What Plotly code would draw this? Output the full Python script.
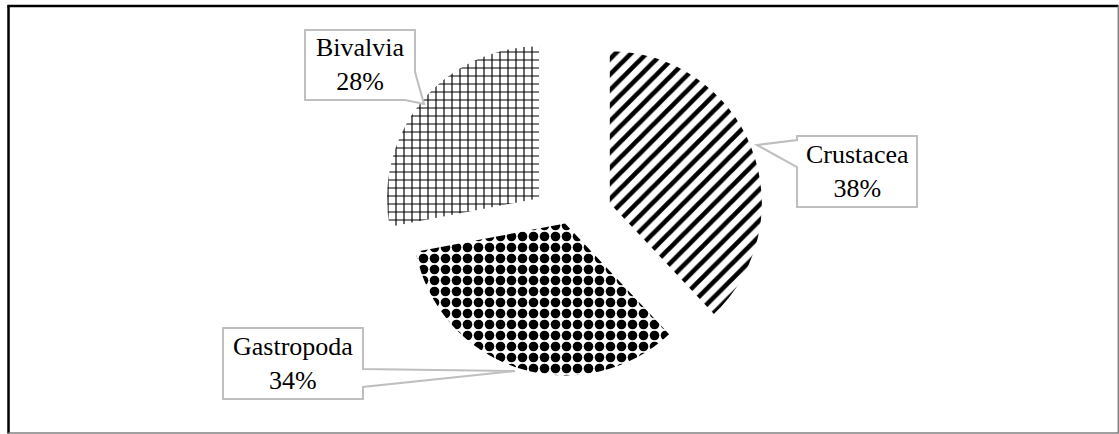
import plotly.graph_objects as go

# ---- data ----
categories = ["Crustacea", "Gastropoda", "Bivalvia"]
values = [38, 34, 28]
percent_labels = ["38%", "34%", "28%"]

# ---- figure geometry helpers (pixel -> paper) ----
W, H = 1119, 434


def px(x):
    return x / W


def py(y):
    return 1 - y / H


pulls = [0.31, 0.02, 0.23]
pattern_shapes = ["/", ".", "+"]
pattern_sizes = [11, 11, 8]
pattern_solidity = [0.42, 0.6, 0.27]

r = 152
cx, cy = 566, 220.5
half = r * (1 + max(pulls))

fig = go.Figure(
    go.Pie(
        labels=categories,
        values=values,
        sort=False,
        direction="clockwise",
        rotation=0,
        pull=pulls,
        textinfo="none",
        hoverinfo="none",
        showlegend=False,
        marker=dict(
            colors=["white"] * 3,
            line=dict(width=0),
            pattern=dict(
                shape=pattern_shapes,
                size=pattern_sizes,
                solidity=pattern_solidity,
                fgcolor="black",
                bgcolor="white",
                fillmode="replace",
            ),
        ),
        domain=dict(x=[px(cx - 250), px(cx + 250)], y=[py(cy + half), py(cy - half)]),
    )
)


def path_from(points):
    s = "M " + " L ".join(f"{px(x):.5f},{py(y):.5f}" for x, y in points) + " Z"
    return s


callouts = {
    "Crustacea": [(797, 136), (917, 136), (917, 207), (797, 207), (797, 167), (757, 145), (797, 140)],
    "Bivalvia": [(305, 30), (415, 30), (415, 72), (424, 104), (405, 100), (305, 100)],
    "Gastropoda": [(223, 328), (363, 328), (363, 369), (515, 371), (363, 387), (363, 399), (223, 399)],
}
label_centers = {"Crustacea": (857, 171.5), "Bivalvia": (360, 65), "Gastropoda": (293, 363.5)}

shapes = []
annotations = []
for cat, pct in zip(categories, percent_labels):
    shapes.append(
        dict(type="path", xref="paper", yref="paper", path=path_from(callouts[cat]),
             line=dict(color="#BFBFBF", width=2), fillcolor="white", layer="above")
    )
    x, y = label_centers[cat]
    annotations.append(
        dict(x=px(x), y=py(y), xref="paper", yref="paper", text=f"{cat}<br>{pct}",
             showarrow=False, xanchor="center", yanchor="middle", align="center",
             font=dict(family="Liberation Serif, Times New Roman, serif", size=26, color="black"))
    )

# outer frame
shapes += [
    dict(type="line", xref="paper", yref="paper", x0=px(8.5), x1=px(8.5), y0=py(5), y1=py(433.5),
         line=dict(color="black", width=2.5)),
    dict(type="line", xref="paper", yref="paper", x0=px(7.5), x1=px(1118.5), y0=py(6), y1=py(6),
         line=dict(color="black", width=2.5)),
    dict(type="line", xref="paper", yref="paper", x0=px(8.5), x1=px(1119), y0=py(433), y1=py(433),
         line=dict(color="#808080", width=1.5)),
    dict(type="line", xref="paper", yref="paper", x0=px(1118.3), x1=px(1118.3), y0=py(6), y1=py(433),
         line=dict(color="#808080", width=1.5)),
]

fig.update_layout(
    width=W,
    height=H,
    margin=dict(l=0, r=0, t=0, b=0),
    paper_bgcolor="white",
    plot_bgcolor="white",
    shapes=shapes,
    annotations=annotations,
    showlegend=False,
)

fig.write_html("out.html")
